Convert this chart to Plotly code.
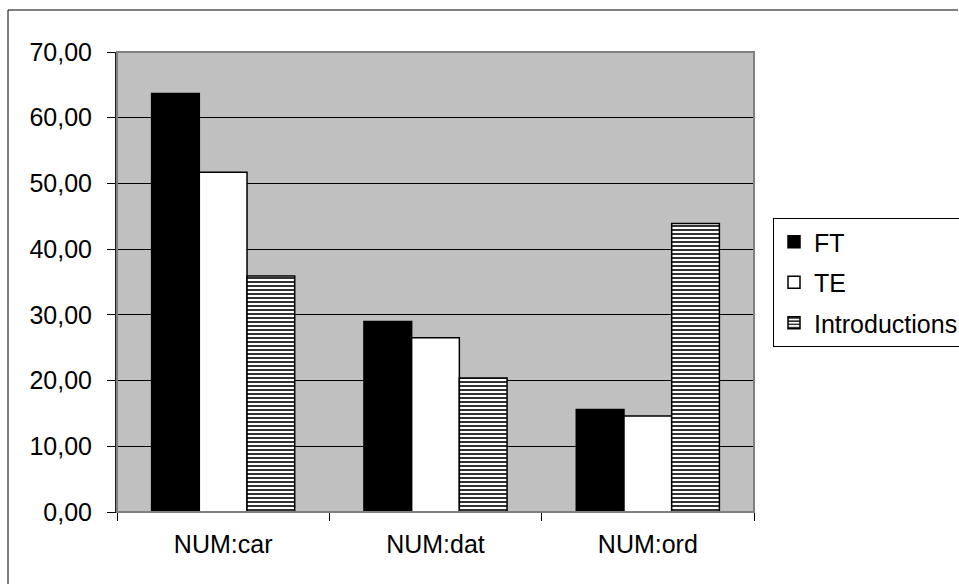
import plotly.graph_objects as go

categories = ["NUM:car", "NUM:dat", "NUM:ord"]
ft_values = [63.7, 29.0, 15.6]
te_values = [51.7, 26.5, 14.6]
intro_values = [35.9, 20.4, 43.9]
y_ticks = [0, 10, 20, 30, 40, 50, 60, 70]

W, H = 959, 585
L, R, T, B = 117, 205, 52, 73
FONT = dict(family="Liberation Sans, Arial, sans-serif", size=25, color="black")

fig = go.Figure()
fig.add_trace(go.Bar(
    name="FT", x=categories, y=ft_values, legendgroup="a",
    marker=dict(color="black", line=dict(color="black", width=1.5)),
))
fig.add_trace(go.Bar(
    name="TE", x=categories, y=te_values, legendgroup="b",
    marker=dict(color="white", line=dict(color="black", width=1.5)),
))
fig.add_trace(go.Bar(
    name="Introductions", x=categories, y=intro_values, legendgroup="c",
    marker=dict(
        color="white",
        line=dict(color="black", width=1.5),
        pattern=dict(shape="-", fgcolor="#333333", bgcolor="white",
                     size=4, solidity=0.5, fillmode="replace"),
    ),
))

pw = W - L - R
ph = H - T - B


def px_x(v):
    return (v - L) / pw


def px_y(v):
    return (H - B - v) / ph


fig.update_layout(
    width=W, height=H,
    autosize=False,
    margin=dict(l=L, r=R, t=T, b=B, pad=0, autoexpand=False),
    paper_bgcolor="white",
    plot_bgcolor="#c0c0c0",
    font=FONT,
    separators=", ",
    barmode="group",
    bargap=0.326,
    bargroupgap=0,
    showlegend=True,
    legend=dict(
        x=px_x(773), y=px_y(218), xanchor="left", yanchor="top",
        bordercolor="black", borderwidth=1, bgcolor="white",
        font=FONT, tracegroupgap=5, traceorder="grouped",
        itemclick=False, itemdoubleclick=False,
    ),
    xaxis=dict(
        type="category",
        showgrid=False,
        showline=True, linecolor="black", linewidth=1,
        ticks="outside", ticklen=8, tickcolor="black", tickwidth=1,
        tickson="boundaries",
        ticklabelstandoff=10,
        tickfont=FONT,
    ),
    yaxis=dict(
        range=[0, 70],
        tickvals=y_ticks,
        tickformat=".2f",
        showgrid=True, gridcolor="black", gridwidth=1,
        zeroline=False,
        showline=True, linecolor="#202020", linewidth=2,
        ticks="outside", ticklen=8, tickcolor="black", tickwidth=1,
        ticklabelstandoff=10,
        tickfont=FONT,
    ),
    shapes=[
        # grey frame around the plotting area
        dict(type="rect", xref="paper", yref="paper", x0=0, x1=1, y0=0, y1=1,
             line=dict(color="#808080", width=2), layer="above"),
        # outer chart frame (top and left edges)
        dict(type="line", xref="paper", yref="paper",
             x0=px_x(8), x1=px_x(W - 1), y0=px_y(10), y1=px_y(10),
             line=dict(color="black", width=1)),
        dict(type="line", xref="paper", yref="paper",
             x0=px_x(8), x1=px_x(8), y0=px_y(10), y1=px_y(H - 1),
             line=dict(color="black", width=1)),
    ],
)

fig.write_html("out.html", config={"displayModeBar": False})
